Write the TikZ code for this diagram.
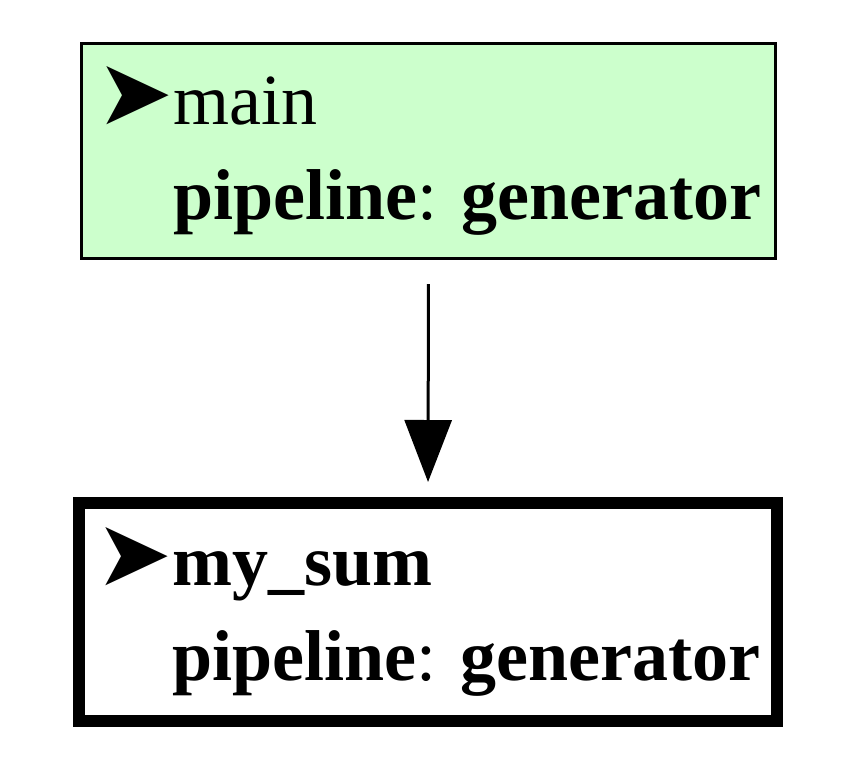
\documentclass[tikz,border=0pt]{standalone}
\usepackage{fontspec}
\setmainfont{Liberation Serif}
\newfontfamily\symfont{DejaVu Sans}
\usetikzlibrary{arrows.meta}
\newcommand{\pointer}{{\symfont\fontsize{46}{47.5}\selectfont ➤}}
\definecolor{callgreen}{HTML}{CCFFCC}

\begin{document}
\begin{tikzpicture}[x=0.5pt,y=-0.5pt,
  fnbox/.style={draw,rectangle,align=left,inner sep=0pt,
    font=\fontsize{36}{47.5}\selectfont},
  callarrow/.style={-{Triangle[length=31pt,width=23.5pt]},line width=1.5pt}]
  % Frame
  \useasboundingbox (0,0) rectangle (856,776);
  %
  % Functions
  \node[fnbox,fill=callgreen,line width=1.5pt,minimum width=347pt,minimum height=107.5pt]
    (main) at (428.5,151) {\pointer main\\
    \hphantom{\pointer}\textbf{pipeline}: \textbf{generator}};
  \node[fnbox,line width=6pt,minimum width=349pt,minimum height=109pt]
    (mysum) at (428,612) {\pointer\textbf{my\_sum}\\
    \hphantom{\pointer}\textbf{pipeline}: \textbf{generator}};
  %
  % Call
  \draw[callarrow,shorten <=12pt,shorten >=7.5pt] (main.south) -- (mysum.north);
  %
\end{tikzpicture}
\end{document}
